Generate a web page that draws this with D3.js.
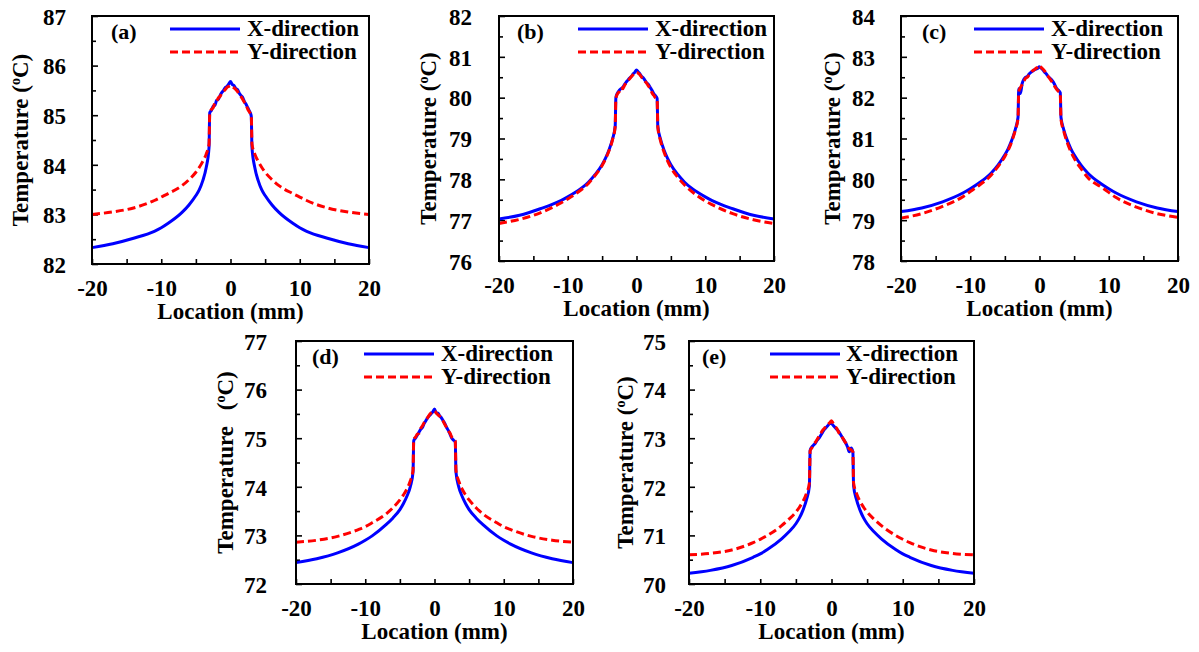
<!DOCTYPE html>
<html>
<head>
<meta charset="utf-8">
<script src="https://cdn.jsdelivr.net/npm/d3@7"></script>
<style>
  html, body { margin: 0; padding: 0; background: #fff; }
  svg { display: block; }
  text { font-family: "Liberation Serif", "Times New Roman", serif; font-weight: bold; fill: #000; }
</style>
</head>
<body>
<svg id="fig" width="1199" height="652"></svg>
<script>
// Sampling locations along the line through the heat source (mm)
const positionMm = [-20, -17, -14, -11, -10, -9, -7, -6, -5, -4.5, -4, -3.5, -3.1,
  -3, -2.75, -2.5, -2.25, -2, -1.75, -1.5, -1.25, -1, -0.75, -0.5, -0.25, 0,
  0.25, 0.5, 0.75, 1, 1.25, 1.5, 1.75, 2, 2.25, 2.5, 2.75, 3,
  3.1, 3.5, 4, 4.5, 5, 6, 7, 9, 10, 11, 14, 17, 20];

const xTickValues = [-20, -10, 0, 10, 20];
const seriesNames = ["X-direction", "Y-direction"];
const panelLabels = ["(a)", "(b)", "(c)", "(d)", "(e)"];

// Temperature profiles (°C)
const xDirA = [82.33, 82.41, 82.52, 82.66, 82.73, 82.82, 83.04, 83.19, 83.38, 83.50, 83.68, 83.95, 84.35,
  85.05, 85.10, 85.18, 85.20, 85.30, 85.32, 85.40, 85.46, 85.50, 85.56, 85.58, 85.63, 85.68,
  85.62, 85.60, 85.54, 85.52, 85.45, 85.40, 85.36, 85.28, 85.22, 85.15, 85.08, 84.98,
  84.35, 83.95, 83.68, 83.50, 83.38, 83.19, 83.04, 82.82, 82.73, 82.66, 82.52, 82.41, 82.33];
const yDirA = [83.00, 83.05, 83.13, 83.28, 83.35, 83.42, 83.58, 83.70, 83.85, 83.95, 84.07, 84.22, 84.42,
  85.02, 85.12, 85.15, 85.25, 85.28, 85.35, 85.38, 85.45, 85.48, 85.52, 85.56, 85.58, 85.60,
  85.58, 85.55, 85.52, 85.48, 85.42, 85.38, 85.32, 85.26, 85.20, 85.12, 85.06, 85.00,
  84.42, 84.22, 84.07, 83.95, 83.85, 83.70, 83.58, 83.42, 83.35, 83.28, 83.13, 83.05, 83.00];

const xDirB = [77.03, 77.12, 77.28, 77.48, 77.57, 77.67, 77.93, 78.12, 78.36, 78.52, 78.72, 78.98, 79.30,
  80.00, 80.12, 80.18, 80.22, 80.25, 80.32, 80.38, 80.43, 80.48, 80.52, 80.58, 80.62, 80.68,
  80.63, 80.58, 80.52, 80.48, 80.42, 80.36, 80.32, 80.25, 80.18, 80.10, 80.05, 79.98,
  79.30, 78.98, 78.72, 78.52, 78.36, 78.12, 77.93, 77.67, 77.57, 77.48, 77.28, 77.12, 77.03];
const yDirB = [76.92, 77.02, 77.18, 77.42, 77.52, 77.63, 77.90, 78.10, 78.34, 78.50, 78.70, 78.96, 79.29,
  79.98, 80.10, 80.15, 80.25, 80.22, 80.30, 80.36, 80.42, 80.46, 80.52, 80.56, 80.60, 80.62,
  80.60, 80.56, 80.50, 80.46, 80.40, 80.35, 80.28, 80.22, 80.12, 80.06, 80.00, 79.96,
  79.28, 78.94, 78.67, 78.46, 78.29, 78.05, 77.86, 77.58, 77.47, 77.38, 77.16, 77.01, 76.92];

const xDirC = [79.21, 79.30, 79.45, 79.67, 79.77, 79.88, 80.15, 80.35, 80.60, 80.76, 80.96, 81.22, 81.52,
  82.22, 82.10, 82.35, 82.45, 82.50, 82.52, 82.58, 82.62, 82.65, 82.68, 82.70, 82.72, 82.76,
  82.72, 82.68, 82.62, 82.58, 82.52, 82.48, 82.44, 82.38, 82.30, 82.22, 82.18, 82.12,
  81.52, 81.22, 80.96, 80.76, 80.60, 80.35, 80.15, 79.88, 79.77, 79.67, 79.45, 79.30, 79.21];
const yDirC = [79.05, 79.16, 79.34, 79.58, 79.70, 79.82, 80.10, 80.31, 80.56, 80.72, 80.93, 81.20, 81.50,
  82.15, 82.25, 82.32, 82.40, 82.48, 82.50, 82.56, 82.60, 82.66, 82.68, 82.72, 82.75, 82.80,
  82.74, 82.70, 82.65, 82.56, 82.52, 82.46, 82.40, 82.34, 82.26, 82.20, 82.15, 82.10,
  81.48, 81.18, 80.90, 80.69, 80.52, 80.26, 80.04, 79.80, 79.68, 79.56, 79.32, 79.16, 79.07];

const xDirD = [72.44, 72.52, 72.64, 72.82, 72.90, 72.99, 73.22, 73.36, 73.53, 73.65, 73.80, 74.00, 74.30,
  74.95, 75.00, 75.06, 75.12, 75.18, 75.22, 75.30, 75.36, 75.42, 75.46, 75.50, 75.54, 75.60,
  75.52, 75.52, 75.46, 75.42, 75.36, 75.30, 75.22, 75.16, 75.08, 75.00, 74.96, 74.92,
  74.30, 74.00, 73.80, 73.65, 73.53, 73.36, 73.22, 72.99, 72.90, 72.82, 72.64, 72.52, 72.44];
const yDirD = [72.86, 72.90, 72.98, 73.12, 73.18, 73.26, 73.44, 73.57, 73.73, 73.83, 73.95, 74.12, 74.34,
  74.98, 75.02, 75.08, 75.10, 75.20, 75.25, 75.32, 75.38, 75.42, 75.48, 75.52, 75.55, 75.56,
  75.52, 75.48, 75.45, 75.40, 75.35, 75.28, 75.22, 75.15, 75.10, 75.02, 74.98, 74.95,
  74.34, 74.12, 73.95, 73.83, 73.73, 73.57, 73.44, 73.26, 73.18, 73.12, 72.98, 72.90, 72.86];

const xDirE = [70.22, 70.28, 70.38, 70.55, 70.62, 70.71, 70.93, 71.07, 71.24, 71.36, 71.52, 71.74, 72.02,
  72.75, 72.82, 72.86, 72.90, 72.96, 73.00, 73.06, 73.12, 73.18, 73.22, 73.26, 73.30, 73.30,
  73.26, 73.22, 73.18, 73.14, 73.08, 73.02, 72.96, 72.90, 72.82, 72.72, 72.80, 72.72,
  72.02, 71.74, 71.52, 71.36, 71.24, 71.07, 70.93, 70.71, 70.62, 70.55, 70.38, 70.28, 70.22];
const yDirE = [70.60, 70.63, 70.70, 70.85, 70.92, 71.00, 71.20, 71.33, 71.48, 71.58, 71.70, 71.87, 72.08,
  72.74, 72.80, 72.88, 72.92, 72.98, 73.04, 73.10, 73.16, 73.20, 73.26, 73.28, 73.32, 73.36,
  73.30, 73.24, 73.20, 73.12, 73.08, 73.02, 72.96, 72.90, 72.84, 72.78, 72.76, 72.72,
  72.08, 71.87, 71.70, 71.58, 71.48, 71.33, 71.20, 71.00, 70.92, 70.85, 70.70, 70.63, 70.60];

// Axis ranges (°C)
const yRangeA = [82, 87], yRangeB = [76, 82], yRangeC = [78, 84], yRangeD = [72, 77], yRangeE = [70, 75];

// Panel boxes and text placement (pixels)
const layout = [
  { box: [92, 16, 369, 264],  yTickPad: 26, yTitleX: 20,  legLine: 78, legText: 155, tag: 19, titleGap: 0 },
  { box: [499, 16, 774, 261], yTickPad: 27, yTitleX: 428, legLine: 79, legText: 156, tag: 18, titleGap: 0 },
  { box: [901, 16, 1178, 261], yTickPad: 26, yTitleX: 832, legLine: 73, legText: 150, tag: 21, titleGap: 0 },
  { box: [296, 341, 573, 584], yTickPad: 29, yTitleX: 225, legLine: 68, legText: 145, tag: 16, titleGap: 10 },
  { box: [689, 341, 974, 584], yTickPad: 23, yTitleX: 625, legLine: 81, legText: 157, tag: 13, titleGap: 0 }
];

const panelData = [
  { x: xDirA, y: yDirA, range: yRangeA },
  { x: xDirB, y: yDirB, range: yRangeB },
  { x: xDirC, y: yDirC, range: yRangeC },
  { x: xDirD, y: yDirD, range: yRangeD },
  { x: xDirE, y: yDirE, range: yRangeE }
];

const seriesStyle = [
  { color: "#0000ff", dash: null },
  { color: "#ff0000", dash: "8,4" }
];

const svg = d3.select("#fig");

panelData.forEach((pd, i) => {
  const L = layout[i];
  const [x0, y0, x1, y1] = L.box;
  const g = svg.append("g");

  const xs = d3.scaleLinear().domain([-20, 20]).range([x0, x1]);
  const ys = d3.scaleLinear().domain(pd.range).range([y1, y0]);

  const yMajor = d3.range(pd.range[0], pd.range[1] + 0.001, 1);
  const yMinor = d3.range(pd.range[0] + 0.5, pd.range[1], 1);
  const xMinor = [-15, -5, 5, 15];

  // y axis: inward ticks, labels on the left
  const ya = g.append("g").attr("transform", `translate(${x0},0)`)
    .call(d3.axisLeft(ys).tickValues(yMajor).tickSizeInner(-6).tickSizeOuter(0)
      .tickPadding(L.yTickPad).tickFormat(d => String(d)));
  g.append("g").attr("transform", `translate(${x0},0)`)
    .call(d3.axisLeft(ys).tickValues(yMinor).tickSizeInner(-4).tickSizeOuter(0).tickFormat(""));

  // x axis
  const xa = g.append("g").attr("transform", `translate(0,${y1})`)
    .call(d3.axisBottom(xs).tickValues(xTickValues).tickSizeInner(-5).tickSizeOuter(0)
      .tickPadding(25).tickFormat(d => String(d)));
  g.append("g").attr("transform", `translate(0,${y1})`)
    .call(d3.axisBottom(xs).tickValues(xMinor).tickSizeInner(-5).tickSizeOuter(0).tickFormat(""));

  g.selectAll(".domain").remove();
  g.selectAll(".tick line").attr("stroke", "#000").attr("stroke-width", 1.6);
  g.selectAll(".tick text").style("font-size", "23px").attr("font-family", null);
  ya.selectAll(".tick text").attr("dy", "0.36em");
  xa.selectAll(".tick text").attr("dy", "0.3em");

  // curves
  const line = d3.line()
    .x((d, k) => xs(positionMm[k]))
    .y(d => ys(d))
    .curve(d3.curveMonotoneX);

  [pd.x, pd.y].forEach((vals, s) => {
    g.append("path")
      .attr("d", line(vals))
      .attr("fill", "none")
      .attr("stroke", seriesStyle[s].color)
      .attr("stroke-width", 3)
      .attr("stroke-dasharray", seriesStyle[s].dash);
  });

  // frame
  g.append("rect")
    .attr("x", x0).attr("y", y0)
    .attr("width", x1 - x0).attr("height", y1 - y0)
    .attr("fill", "none").attr("stroke", "#000").attr("stroke-width", 2);

  // legend
  seriesNames.forEach((name, s) => {
    const ly = y0 + 13 + s * 23;
    g.append("line")
      .attr("x1", x0 + L.legLine).attr("x2", x0 + L.legLine + 70)
      .attr("y1", ly).attr("y2", ly)
      .attr("stroke", seriesStyle[s].color).attr("stroke-width", 3)
      .attr("stroke-dasharray", seriesStyle[s].dash);
    g.append("text")
      .attr("x", x0 + L.legText).attr("y", ly + 7)
      .style("font-size", "23px")
      .text(name);
  });

  // panel tag
  g.append("text")
    .attr("x", x0 + L.tag).attr("y", y0 + 23)
    .style("font-size", "22px")
    .text(panelLabels[i]);

  // axis titles
  g.append("text")
    .attr("x", (x0 + x1) / 2).attr("y", y1 + 55)
    .attr("text-anchor", "middle")
    .style("font-size", "23px")
    .text("Location (mm)");

  const cy = (y0 + y1) / 2;
  const yt = g.append("text")
    .attr("transform", `translate(${L.yTitleX},${cy}) rotate(-90)`)
    .attr("text-anchor", "middle")
    .attr("dy", "0.35em")
    .style("font-size", "23px");
  yt.append("tspan").text("Temperature ");
  yt.append("tspan").attr("dx", L.titleGap).text("(");
  yt.append("tspan").attr("dy", -8).style("font-size", "14px").text("o");
  yt.append("tspan").attr("dy", 8).text("C)");
});
</script>
</body>
</html>
